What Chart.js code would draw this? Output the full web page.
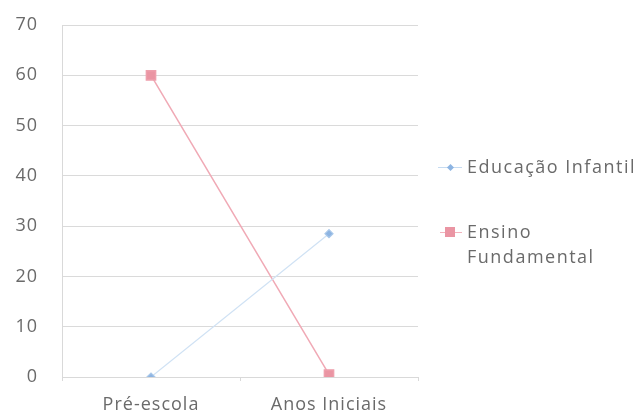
<!DOCTYPE html>
<html>
<head>
<meta charset="utf-8">
<script src="https://cdn.jsdelivr.net/npm/chart.js@4/dist/chart.umd.min.js"></script>
<style>
  html, body { margin: 0; padding: 0; background: #fff; }
  #wrap { position: relative; width: 639px; height: 414px; overflow: hidden; }
  canvas { position: absolute; left: 0; top: 0; }
  .leg { position: absolute; font-family: "Open Sans", sans-serif; font-size: 18px; color: #6a6a6a; letter-spacing: 1.5px; line-height: 25px; white-space: nowrap; }
  .mk { position: absolute; }
</style>
</head>
<body>
<div id="wrap">
  <canvas id="c" width="639" height="414"></canvas>
  <div class="leg" style="left:467px; top:154px;">Educação Infantil</div>
  <div class="leg" style="left:467px; top:219px;">Ensino<br>Fundamental</div>
  <div class="mk" style="left:438px; top:167px; width:24px; height:1px; background:#c6dbf1;"></div>
  <div class="mk" style="left:448px; top:165px; width:5px; height:5px; background:#8db4e2; transform:rotate(45deg);"></div>
  <div class="mk" style="left:440px; top:232px; width:22px; height:1px; background:#f2b3bd;"></div>
  <div class="mk" style="left:445px; top:227px; width:10px; height:10px; background:#ea95a3;"></div>
</div>
<script>
const categories = ["Pré-escola", "Anos Iniciais"];
const educacaoInfantil = [0, 28.5];
const ensinoFundamental = [60, 0.5];
const seriesNames = ["Educação Infantil", "Ensino Fundamental"];
const yTicks = [0, 10, 20, 30, 40, 50, 60, 70];

const spacingPlugin = {
  id: "spacing",
  beforeUpdate(chart) { chart.ctx.letterSpacing = "1px"; },
  beforeDraw(chart) { chart.ctx.letterSpacing = "1px"; }
};

new Chart(document.getElementById("c"), {
  type: "line",
  plugins: [spacingPlugin],
  data: {
    labels: categories,
    datasets: [
      {
        label: seriesNames[0],
        data: educacaoInfantil,
        borderColor: "#d0e2f4",
        borderWidth: 1.2,
        backgroundColor: "#8db4e2",
        pointBackgroundColor: "#8db4e2",
        pointBorderColor: "#a9c8ea",
        pointStyle: "rectRot",
        pointRadius: 4,
        tension: 0
      },
      {
        label: seriesNames[1],
        data: ensinoFundamental,
        borderColor: "#f0a9b5",
        borderWidth: 1.5,
        backgroundColor: "#ea95a3",
        pointBackgroundColor: "#ea95a3",
        pointBorderColor: "#ee9fac",
        pointStyle: "rect",
        pointRadius: 6.5,
        tension: 0
      }
    ]
  },
  options: {
    responsive: false,
    animation: false,
    layout: { padding: { top: 25, right: 221, left: 0, bottom: 0 } },
    plugins: { legend: { display: false }, tooltip: { enabled: false } },
    scales: {
      x: {
        offset: true,
        grid: { display: true, offset: true, drawOnChartArea: false, drawTicks: true, tickLength: 4, color: "#d9d9d9" },
        border: { display: true, color: "#d9d9d9" },
        ticks: {
          color: "#6a6a6a",
          font: { family: "Open Sans", size: 18 },
          padding: 13
        },
        afterFit(s) { s.height = 37; s.paddingLeft = 0; s.paddingRight = 0; }
      },
      y: {
        min: 0,
        max: 70,
        afterBuildTicks(s) { s.ticks = yTicks.map(v => ({ value: v })); },
        grid: { color: "#dadada", drawTicks: false },
        border: { display: true, color: "#d9d9d9" },
        ticks: {
          color: "#6a6a6a",
          font: { family: "Open Sans", size: 18 },
          padding: 24
        },
        afterFit(s) { s.width = 62; s.paddingTop = 0; s.paddingBottom = 0; }
      }
    }
  }
});
</script>
</body>
</html>
